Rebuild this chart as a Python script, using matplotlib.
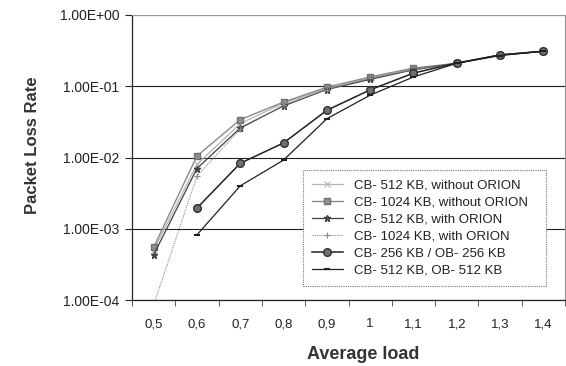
import matplotlib
matplotlib.use("Agg")
import matplotlib.pyplot as plt
from matplotlib.ticker import FixedLocator, FuncFormatter, NullLocator

plt.rcParams['font.family'] = ['Liberation Sans', 'DejaVu Sans']

loads = [0.5, 0.6, 0.7, 0.8, 0.9, 1.0, 1.1, 1.2, 1.3, 1.4]
tick_labels = ["0,5", "0,6", "0,7", "0,8", "0,9", "1", "1,1", "1,2", "1,3", "1,4"]

cb512_without = [5.0e-4, 8.0e-3, 3.0e-2, 5.8e-2, 9.3e-2, 0.13, 0.175, 0.21, 0.275, 0.31]
cb1024_without = [5.5e-4, 1.05e-2, 3.4e-2, 6.0e-2, 9.7e-2, 0.135, 0.18, 0.21, 0.275, 0.31]
cb512_with = [4.3e-4, 7.0e-3, 2.6e-2, 5.3e-2, 9.0e-2, 0.125, 0.17, 0.21, 0.275, 0.31]
cb1024_with = [8.5e-5, 5.5e-3, 2.5e-2, 5.5e-2, 9.0e-2, 0.13, 0.17, 0.21, 0.275, 0.31]
cb256_ob256 = [None, 1.95e-3, 8.3e-3, 1.6e-2, 4.6e-2, 8.9e-2, 0.153, 0.212, 0.275, 0.31]
cb512_ob512 = [None, 8.2e-4, 4.0e-3, 9.2e-3, 3.5e-2, 7.5e-2, 0.135, 0.21, 0.27, 0.31]

ytick_vals = [1e-4, 1e-3, 1e-2, 1e-1, 1e0]
ytick_labels = ["1.00E-04", "1.00E-03", "1.00E-02", "1.00E-01", "1.00E+00"]

labels = ["CB- 512 KB, without ORION", "CB- 1024 KB, without ORION",
          "CB- 512 KB, with ORION", "CB- 1024 KB, with ORION",
          "CB- 256 KB / OB- 256 KB", "CB- 512 KB, OB- 512 KB"]

def xy(vals):
    xs = [x for x, v in zip(loads, vals) if v is not None]
    ys = [v for v in vals if v is not None]
    return xs, ys

fig = plt.figure(figsize=(5.66, 3.66), dpi=100)
ax = fig.add_axes([132/566, 66/366, 433/566, 285/366])

ax.plot(*xy(cb512_without), color='#b5b5b5', lw=0.9, marker='x', ms=4, mew=0.8, label=labels[0])
ax.plot(*xy(cb1024_without), color='#8a8a8a', lw=1.0, marker='s', ms=5, mfc='#909090', mec='#707070', label=labels[1])
ax.plot(*xy(cb512_with), color='#404040', lw=0.9, marker='*', ms=5, mfc='#606060', mec='#404040', label=labels[2])
ax.plot(*xy(cb1024_with), color='#8a8a8a', lw=0.8, ls=(0, (1, 1)), marker='+', ms=4, mew=0.8, label=labels[3])
ax.plot(*xy(cb256_ob256), color='#202020', lw=1.1, marker='o', ms=5.5, mfc='#707070', mec='#303030', label=labels[4])
ax.plot(*xy(cb512_ob512), color='#202020', lw=0.9, marker='_', ms=5, mew=1.5, label=labels[5])

ax.set_yscale('log')
ax.set_ylim(1e-4, 1e0)
ax.set_xlim(0.45, 1.45)
ax.yaxis.set_major_locator(FixedLocator(ytick_vals))
ax.yaxis.set_major_formatter(FuncFormatter(lambda v, p: ytick_labels[ytick_vals.index(min(ytick_vals, key=lambda t: abs(t - v)))]))
ax.yaxis.set_minor_locator(NullLocator())
ax.set_xticks(loads)
ax.set_xticklabels(tick_labels)
ax.set_xticks([0.45 + 0.1 * i for i in range(11)], minor=True)
ax.tick_params(axis='x', which='major', length=0, pad=13, labelsize=9.5, colors='#222222')
ax.tick_params(axis='x', which='minor', length=4, direction='out', color='#444444')
ax.tick_params(axis='y', which='major', length=5, direction='out', pad=4, labelsize=10, colors='#222222')

ax.grid(True, axis='y', which='major', color='#222222', lw=0.8)
for side in ['top', 'right']:
    ax.spines[side].set_color('#999999')
    ax.spines[side].set_linestyle((0, (1, 1)))
    ax.spines[side].set_linewidth(0.8)
for side in ['left', 'bottom']:
    ax.spines[side].set_color('#222222')
    ax.spines[side].set_linewidth(0.9)

ax.set_ylabel("Packet Loss Rate", fontsize=12, fontweight='bold', color='#333333')
ax.yaxis.set_label_coords(-0.212, 0.544)
ax.set_xlabel("Average load", fontsize=13, fontweight='bold', color='#333333')
ax.xaxis.set_label_coords(0.533, -0.162)

leg = ax.legend(loc='lower left', bbox_to_anchor=(0.395, 0.05, 0.56, 0.405), mode='expand',
                fontsize=9.5, frameon=True, fancybox=False, handlelength=2.3, handletextpad=0.9,
                borderaxespad=0, labelspacing=0.36, borderpad=0.7)
frame = leg.get_frame()
frame.set_edgecolor('#777777')
frame.set_linestyle((0, (1, 1)))
frame.set_linewidth(0.8)
frame.set_alpha(1)
for t in leg.get_texts():
    t.set_color('#222222')

fig.savefig("out.png", dpi=100)
